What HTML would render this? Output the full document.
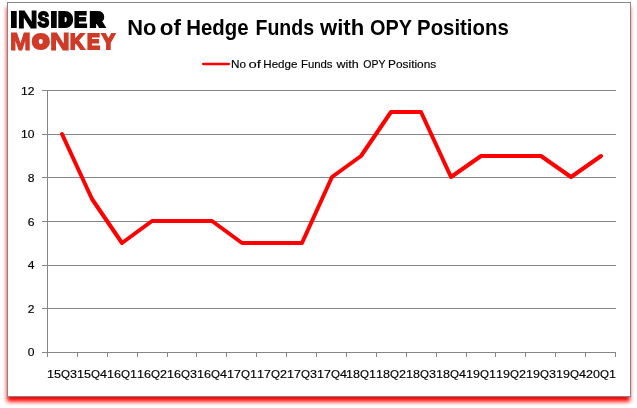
<!DOCTYPE html>
<html lang="en">
<head>
<meta charset="utf-8">
<title>No of Hedge Funds with OPY Positions</title>
<style>
html,body{margin:0;padding:0;background:#fff;}
body{width:637px;height:408px;overflow:hidden;position:relative;font-family:"Liberation Sans",sans-serif;}
#frame{position:absolute;left:7px;top:2px;width:622px;height:393px;border:1px solid #868686;background:#fff;}
svg{position:absolute;left:0;top:0;}
.grid rect{fill:#868686;}
.lab text{font-family:"Liberation Sans",sans-serif;font-size:11px;fill:#000;stroke:#000;stroke-width:0.15px;}
</style>
</head>
<body>
<svg width="637" height="408" viewBox="0 0 637 408"><defs><filter id="b" x="-0.05" y="-0.05" width="1.1" height="1.1"><feGaussianBlur stdDeviation="2"/></filter></defs><rect x="7" y="7" width="623" height="394.7" fill="#ff0000" filter="url(#b)"/></svg>
<div id="frame"></div>
<svg width="637" height="408" viewBox="0 0 637 408">
<g class="logo">
<text font-family="Liberation Sans, sans-serif" font-weight="bold" font-size="22" fill="#000" stroke="#000" stroke-width="2" stroke-linejoin="miter"><tspan x="10.63" y="27" textLength="6.77" lengthAdjust="spacingAndGlyphs">I</tspan><tspan x="17.75" y="28" textLength="19.98" lengthAdjust="spacingAndGlyphs" font-size="23" stroke-width="1.1">N</tspan><tspan x="37.86" y="27" textLength="11.39" lengthAdjust="spacingAndGlyphs">S</tspan><tspan x="50.63" y="27" textLength="6.77" lengthAdjust="spacingAndGlyphs">I</tspan><tspan x="59.02" y="26" textLength="13.03" lengthAdjust="spacingAndGlyphs" font-size="19" stroke-width="4">D</tspan><tspan x="74.02" y="27" textLength="13.01" lengthAdjust="spacingAndGlyphs">E</tspan><tspan x="90.51" y="26" textLength="12.84" lengthAdjust="spacingAndGlyphs" font-size="19" stroke-width="4">R</tspan></text>
<text font-family="Liberation Sans, sans-serif" font-weight="bold" font-size="22" fill="#cf3b27" stroke="#cf3b27" stroke-width="2" stroke-linejoin="miter"><tspan x="10.02" y="50" textLength="20.78" lengthAdjust="spacingAndGlyphs" font-size="23" stroke-width="1.1">M</tspan><tspan x="33.02" y="48" textLength="15.61" lengthAdjust="spacingAndGlyphs" font-size="19" stroke-width="4">O</tspan><tspan x="50.01" y="50" textLength="19.83" lengthAdjust="spacingAndGlyphs" font-size="23" stroke-width="1.1">N</tspan><tspan x="69.88" y="49" textLength="14.36" lengthAdjust="spacingAndGlyphs">K</tspan><tspan x="86.99" y="49" textLength="12.98" lengthAdjust="spacingAndGlyphs">E</tspan><tspan x="101.77" y="49" textLength="13.33" lengthAdjust="spacingAndGlyphs">Y</tspan></text>
</g>
<text font-family="Liberation Sans, sans-serif" font-weight="bold" font-size="22.1" fill="#000"><tspan x="127.35" y="35" textLength="29.11" lengthAdjust="spacingAndGlyphs">No</tspan> <tspan x="159.84" y="35" textLength="21.21" lengthAdjust="spacingAndGlyphs">of</tspan> <tspan x="186.32" y="35" textLength="62.31" lengthAdjust="spacingAndGlyphs">Hedge</tspan> <tspan x="255.49" y="35" textLength="58.66" lengthAdjust="spacingAndGlyphs">Funds</tspan> <tspan x="320.04" y="35" textLength="44.2" lengthAdjust="spacingAndGlyphs">with</tspan> <tspan x="370.12" y="35" textLength="41.66" lengthAdjust="spacingAndGlyphs">OPY</tspan> <tspan x="417.09" y="35" textLength="91.63" lengthAdjust="spacingAndGlyphs">Positions</tspan></text>
<line x1="203.1" y1="64" x2="228.9" y2="64" stroke="#ff0000" stroke-width="2.3" stroke-linecap="round"/>
<text font-family="Liberation Sans, sans-serif" font-size="11" fill="#000" stroke="#000" stroke-width="0.15"><tspan x="230.94" y="68" textLength="14.98" lengthAdjust="spacingAndGlyphs">No</tspan> <tspan x="248.64" y="68" textLength="12.37" lengthAdjust="spacingAndGlyphs">of</tspan> <tspan x="263.27" y="68" textLength="34.17" lengthAdjust="spacingAndGlyphs">Hedge</tspan> <tspan x="300.95" y="68" textLength="31.63" lengthAdjust="spacingAndGlyphs">Funds</tspan> <tspan x="336.51" y="68" textLength="22.3" lengthAdjust="spacingAndGlyphs">with</tspan> <tspan x="363.37" y="68" textLength="21.92" lengthAdjust="spacingAndGlyphs">OPY</tspan> <tspan x="388.05" y="68" textLength="48.22" lengthAdjust="spacingAndGlyphs">Positions</tspan></text>
<g class="grid">
<rect x="42" y="352" width="574" height="1"/>
<rect x="42" y="308" width="574" height="1"/>
<rect x="42" y="265" width="574" height="1"/>
<rect x="42" y="221" width="574" height="1"/>
<rect x="42" y="177" width="574" height="1"/>
<rect x="42" y="134" width="574" height="1"/>
<rect x="42" y="90" width="574" height="1"/>
<rect x="47" y="90" width="1" height="267"/>
<rect x="47" y="352" width="1" height="5"/>
<rect x="77" y="352" width="1" height="5"/>
<rect x="107" y="352" width="1" height="5"/>
<rect x="137" y="352" width="1" height="5"/>
<rect x="167" y="352" width="1" height="5"/>
<rect x="196" y="352" width="1" height="5"/>
<rect x="226" y="352" width="1" height="5"/>
<rect x="256" y="352" width="1" height="5"/>
<rect x="286" y="352" width="1" height="5"/>
<rect x="316" y="352" width="1" height="5"/>
<rect x="346" y="352" width="1" height="5"/>
<rect x="376" y="352" width="1" height="5"/>
<rect x="406" y="352" width="1" height="5"/>
<rect x="436" y="352" width="1" height="5"/>
<rect x="466" y="352" width="1" height="5"/>
<rect x="495" y="352" width="1" height="5"/>
<rect x="525" y="352" width="1" height="5"/>
<rect x="555" y="352" width="1" height="5"/>
<rect x="585" y="352" width="1" height="5"/>
<rect x="615" y="352" width="1" height="5"/>
</g>
<polyline points="62,134 92,199 122,243 152,221 182,221 212,221 242,243 272,243 302,243 332,177 361,156 391,112 421,112 451,177 481,156 511,156 541,156 571,177 601,156" fill="none" stroke="#ff0000" stroke-width="4" stroke-linejoin="round" stroke-linecap="round"/>
<g class="lab">
<text x="27.85" y="356" textLength="6.75" lengthAdjust="spacingAndGlyphs">0</text>
<text x="27.85" y="313" textLength="6.75" lengthAdjust="spacingAndGlyphs">2</text>
<text x="27.85" y="269" textLength="6.75" lengthAdjust="spacingAndGlyphs">4</text>
<text x="27.85" y="226" textLength="6.75" lengthAdjust="spacingAndGlyphs">6</text>
<text x="27.85" y="182" textLength="6.75" lengthAdjust="spacingAndGlyphs">8</text>
<text x="21.1" y="138" textLength="13.5" lengthAdjust="spacingAndGlyphs">10</text>
<text x="21.1" y="95" textLength="13.5" lengthAdjust="spacingAndGlyphs">12</text>
<text y="378"><tspan x="47" textLength="14" lengthAdjust="spacingAndGlyphs">15</tspan><tspan x="61" textLength="9" lengthAdjust="spacingAndGlyphs">Q</tspan><tspan x="70" textLength="7" lengthAdjust="spacingAndGlyphs">3</tspan></text>
<text y="378"><tspan x="77" textLength="14" lengthAdjust="spacingAndGlyphs">15</tspan><tspan x="91" textLength="9" lengthAdjust="spacingAndGlyphs">Q</tspan><tspan x="100" textLength="7" lengthAdjust="spacingAndGlyphs">4</tspan></text>
<text y="378"><tspan x="107" textLength="14" lengthAdjust="spacingAndGlyphs">16</tspan><tspan x="121" textLength="9" lengthAdjust="spacingAndGlyphs">Q</tspan><tspan x="130" textLength="7" lengthAdjust="spacingAndGlyphs">1</tspan></text>
<text y="378"><tspan x="137" textLength="14" lengthAdjust="spacingAndGlyphs">16</tspan><tspan x="151" textLength="9" lengthAdjust="spacingAndGlyphs">Q</tspan><tspan x="160" textLength="7" lengthAdjust="spacingAndGlyphs">2</tspan></text>
<text y="378"><tspan x="167" textLength="14" lengthAdjust="spacingAndGlyphs">16</tspan><tspan x="181" textLength="9" lengthAdjust="spacingAndGlyphs">Q</tspan><tspan x="190" textLength="7" lengthAdjust="spacingAndGlyphs">3</tspan></text>
<text y="378"><tspan x="197" textLength="14" lengthAdjust="spacingAndGlyphs">16</tspan><tspan x="211" textLength="9" lengthAdjust="spacingAndGlyphs">Q</tspan><tspan x="220" textLength="7" lengthAdjust="spacingAndGlyphs">4</tspan></text>
<text y="378"><tspan x="227" textLength="14" lengthAdjust="spacingAndGlyphs">17</tspan><tspan x="241" textLength="9" lengthAdjust="spacingAndGlyphs">Q</tspan><tspan x="250" textLength="7" lengthAdjust="spacingAndGlyphs">1</tspan></text>
<text y="378"><tspan x="257" textLength="14" lengthAdjust="spacingAndGlyphs">17</tspan><tspan x="271" textLength="9" lengthAdjust="spacingAndGlyphs">Q</tspan><tspan x="280" textLength="7" lengthAdjust="spacingAndGlyphs">2</tspan></text>
<text y="378"><tspan x="287" textLength="14" lengthAdjust="spacingAndGlyphs">17</tspan><tspan x="301" textLength="9" lengthAdjust="spacingAndGlyphs">Q</tspan><tspan x="310" textLength="7" lengthAdjust="spacingAndGlyphs">3</tspan></text>
<text y="378"><tspan x="317" textLength="14" lengthAdjust="spacingAndGlyphs">17</tspan><tspan x="331" textLength="9" lengthAdjust="spacingAndGlyphs">Q</tspan><tspan x="340" textLength="7" lengthAdjust="spacingAndGlyphs">4</tspan></text>
<text y="378"><tspan x="346" textLength="14" lengthAdjust="spacingAndGlyphs">18</tspan><tspan x="360" textLength="9" lengthAdjust="spacingAndGlyphs">Q</tspan><tspan x="369" textLength="7" lengthAdjust="spacingAndGlyphs">1</tspan></text>
<text y="378"><tspan x="376" textLength="14" lengthAdjust="spacingAndGlyphs">18</tspan><tspan x="390" textLength="9" lengthAdjust="spacingAndGlyphs">Q</tspan><tspan x="399" textLength="7" lengthAdjust="spacingAndGlyphs">2</tspan></text>
<text y="378"><tspan x="406" textLength="14" lengthAdjust="spacingAndGlyphs">18</tspan><tspan x="420" textLength="9" lengthAdjust="spacingAndGlyphs">Q</tspan><tspan x="429" textLength="7" lengthAdjust="spacingAndGlyphs">3</tspan></text>
<text y="378"><tspan x="436" textLength="14" lengthAdjust="spacingAndGlyphs">18</tspan><tspan x="450" textLength="9" lengthAdjust="spacingAndGlyphs">Q</tspan><tspan x="459" textLength="7" lengthAdjust="spacingAndGlyphs">4</tspan></text>
<text y="378"><tspan x="466" textLength="14" lengthAdjust="spacingAndGlyphs">19</tspan><tspan x="480" textLength="9" lengthAdjust="spacingAndGlyphs">Q</tspan><tspan x="489" textLength="7" lengthAdjust="spacingAndGlyphs">1</tspan></text>
<text y="378"><tspan x="496" textLength="14" lengthAdjust="spacingAndGlyphs">19</tspan><tspan x="510" textLength="9" lengthAdjust="spacingAndGlyphs">Q</tspan><tspan x="519" textLength="7" lengthAdjust="spacingAndGlyphs">2</tspan></text>
<text y="378"><tspan x="526" textLength="14" lengthAdjust="spacingAndGlyphs">19</tspan><tspan x="540" textLength="9" lengthAdjust="spacingAndGlyphs">Q</tspan><tspan x="549" textLength="7" lengthAdjust="spacingAndGlyphs">3</tspan></text>
<text y="378"><tspan x="556" textLength="14" lengthAdjust="spacingAndGlyphs">19</tspan><tspan x="570" textLength="9" lengthAdjust="spacingAndGlyphs">Q</tspan><tspan x="579" textLength="7" lengthAdjust="spacingAndGlyphs">4</tspan></text>
<text y="378"><tspan x="586" textLength="14" lengthAdjust="spacingAndGlyphs">20</tspan><tspan x="600" textLength="9" lengthAdjust="spacingAndGlyphs">Q</tspan><tspan x="609" textLength="7" lengthAdjust="spacingAndGlyphs">1</tspan></text>
</g>
</svg>
</body>
</html>
